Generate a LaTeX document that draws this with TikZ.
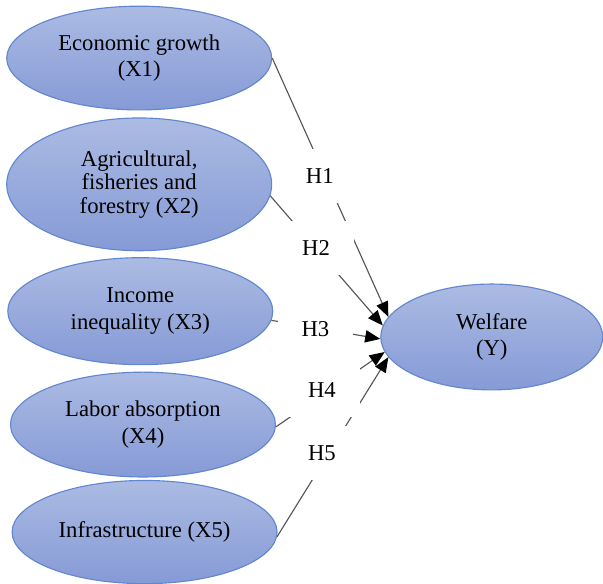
\documentclass[tikz,border=0pt]{standalone}
\usepackage{fontspec}
\setmainfont{LiberationSerif}[Extension=.ttf, UprightFont=*-Regular, BoldFont=*-Bold, ItalicFont=*-Italic, BoldItalicFont=*-BoldItalic]
\usetikzlibrary{shapes,arrows,positioning,calc,arrows.meta}
\definecolor{ovaltop}{RGB}{171,187,227}
\definecolor{ovalbot}{RGB}{134,154,214}
\definecolor{ovalline}{RGB}{98,135,208}
\definecolor{pathgray}{RGB}{85,85,85}

\begin{document}
\begin{tikzpicture}[
    construct/.style={ellipse, draw=ovalline, line width=0.6pt, top color=ovaltop, bottom color=ovalbot,
        minimum width=4.93cm, minimum height=1.95cm, inner sep=0pt, align=center,
        font=\rmfamily\fontsize{12}{14}\selectfont},
    hyp/.style={fill=white, inner sep=0pt, minimum width=1.41cm, minimum height=1cm,
        font=\rmfamily\fontsize{12}{14}\selectfont},
    link/.style={draw=pathgray, line width=0.6pt, -{Triangle[length=8pt,width=6.5pt,color=black]}}
]
    \useasboundingbox (0,0) rectangle (11.22,-10.85);

    % Independent variables
    \node[construct, minimum height=1.93cm] (x1) at (2.59,-1.08) {Economic growth\\(X1)};
    \node[construct, minimum height=2.47cm, font=\rmfamily\fontsize{12}{12.5}\selectfont] (x2) at (2.59,-3.43) {Agricultural,\\fisheries and\\forestry (X2)};
    \node[construct, minimum height=1.99cm] (x3) at (2.61,-5.79) {Income\\inequality (X3)};
    \node[construct] (x4) at (2.66,-7.90) {Labor absorption\\(X4)};
    \node[construct, minimum height=1.92cm] (x5) at (2.69,-9.90) {Infrastructure (X5)};

    % Dependent variable
    \node[construct, minimum width=4.13cm, minimum height=1.97cm] (y) at (9.15,-6.27) {Welfare\\(Y)};

    % Paths
    \draw[link] (x1.east) -- (y.169);
    \draw[link] (x2.-5) -- (y.174);
    \draw[link] (x3.-4) -- (y.181);
    \draw[link] (x4.-1) -- (y.188);
    \draw[link] (x5.-2) -- (y.191);

    % Hypothesis labels
    \node[hyp] (h1) at (5.95,-3.27) {H1};
    \node[hyp] (h2) at (5.88,-4.61) {H2};
    \node[hyp] (h3) at (5.87,-6.12) {H3};
    \node[hyp] (h4) at (5.99,-7.25) {H4};
    \node[hyp] (h5) at (5.99,-8.43) {H5};
\end{tikzpicture}
\end{document}
